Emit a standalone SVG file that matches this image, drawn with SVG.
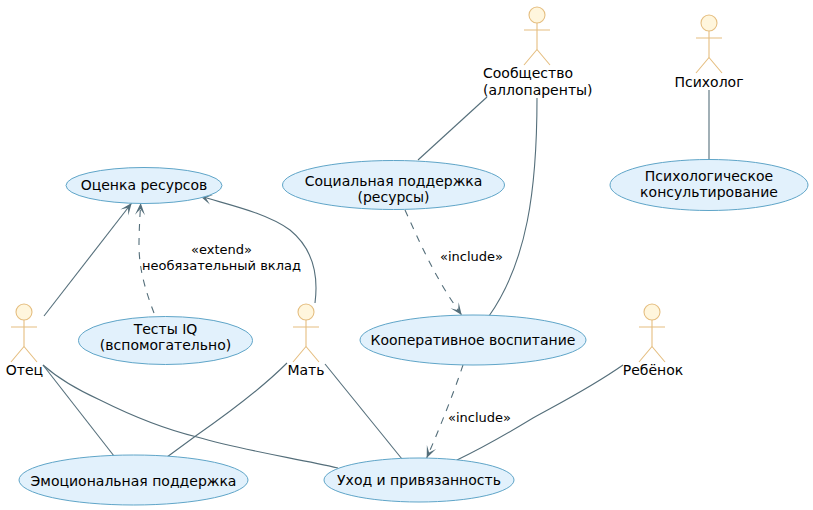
<svg xmlns="http://www.w3.org/2000/svg" width="813" height="510" viewBox="0 0 813 510">
<style>
text{font-family:"DejaVu Sans",sans-serif;font-size:14px;fill:#000}
.m{text-anchor:middle}
.l{font-size:13px}
.u{fill:#E2F1FC;stroke:#5FA5C8;stroke-width:1}
.ah{fill:#FFF6DD;stroke:#E5BE80;stroke-width:1.1}
.ab{fill:none;stroke:#E5BE80;stroke-width:1.1}
#connectors path{fill:none;stroke:#546E7A;stroke-width:1.1}
#connectors .d{stroke-dasharray:7 7}
#connectors .r{marker-end:url(#arrow)}
</style>
<defs>
<marker id="arrow" markerUnits="userSpaceOnUse" markerWidth="16" markerHeight="14" refX="13" refY="6" orient="auto"><path d="M13 6L1 1L7 6L1 11Z" fill="#546E7A"/></marker>
<g id="stick"><circle class="ah" cx="0" cy="0" r="8"/><path class="ab" d="M0 8V34.500M-13 15H13M0 34.500L-13 50M0 34.500L13 50"/></g>
</defs>
<rect width="813" height="510" fill="#fff"/>
<g id="connectors">
<path class="r" d="M44 316L131.700 203"/>
<path class="d r" d="M154 313C146 292 139 270 139 245C139 230 140 215 140.700 203"/>
<path class="r" d="M315 303C319 272 312 248 290 230C265 212 225 204 200 196"/>
<path d="M487 97L418 160"/>
<path d="M537 98C537 190 527 262 489 316"/>
<path class="d r" d="M405 210C420 243 436 280 461.700 315"/>
<path class="d r" d="M463 365C454 392 441 425 426.700 458"/>
<path d="M709 90V159"/>
<path d="M43 365C60 380 78 390 100 400C130 415 160 428 197 437C245 451 295 458 338 468"/>
<path d="M43 365L114 456"/>
<path d="M287 363C260 390 230 412 197 435L167 457"/>
<path d="M325 364L402 459"/>
<path d="M623 365C590 388 560 403 533 418C505 435 480 449 457 460"/>
</g>
<g id="n-ocenka"><ellipse class="u" cx="144" cy="185.500" rx="78" ry="18"/><text class="m" x="144" y="190">Оценка ресурсов</text></g>
<g id="n-social"><ellipse class="u" cx="393.500" cy="185" rx="111" ry="24.500"/><text class="m" x="393.500" y="186">Социальная поддержка</text><text class="m" x="393.500" y="202">(ресурсы)</text></g>
<g id="n-psy"><ellipse class="u" cx="709" cy="185" rx="99" ry="25.500"/><text class="m" x="709" y="181">Психологическое</text><text class="m" x="709" y="197">консультирование</text></g>
<g id="n-iq"><ellipse class="u" cx="165.500" cy="340.500" rx="87" ry="24"/><text class="m" x="165.500" y="334">Тесты IQ</text><text class="m" x="165.500" y="350">(вспомогательно)</text></g>
<g id="n-coop"><ellipse class="u" cx="473" cy="340" rx="113" ry="25"/><text class="m" x="473" y="345">Кооперативное воспитание</text></g>
<g id="n-emo"><ellipse class="u" cx="133.500" cy="480" rx="114.500" ry="25"/><text class="m" x="133.500" y="486">Эмоциональная поддержка</text></g>
<g id="n-care"><ellipse class="u" cx="419" cy="480" rx="95" ry="22"/><text class="m" x="419" y="485">Уход и привязанность</text></g>
<g id="a-father"><use href="#stick" x="24" y="312"/><text class="m" x="24.500" y="375">Отец</text></g>
<g id="a-mother"><use href="#stick" x="306" y="312"/><text class="m" x="306" y="375">Мать</text></g>
<g id="a-community"><use href="#stick" x="537" y="15"/><text x="483" y="78">Сообщество</text><text x="483" y="95">(аллопаренты)</text></g>
<g id="a-psy"><use href="#stick" x="709" y="23"/><text class="m" x="709" y="87">Психолог</text></g>
<g id="a-child"><use href="#stick" x="652" y="312"/><text class="m" x="653" y="375">Ребёнок</text></g>
<g id="labels">
<text class="m l" x="221.500" y="254">«extend»</text><text class="m l" x="221.500" y="270">необязательный вклад</text>
<text class="l" x="440" y="261">«include»</text>
<text class="l" x="448" y="422">«include»</text>
</g>
</svg>
